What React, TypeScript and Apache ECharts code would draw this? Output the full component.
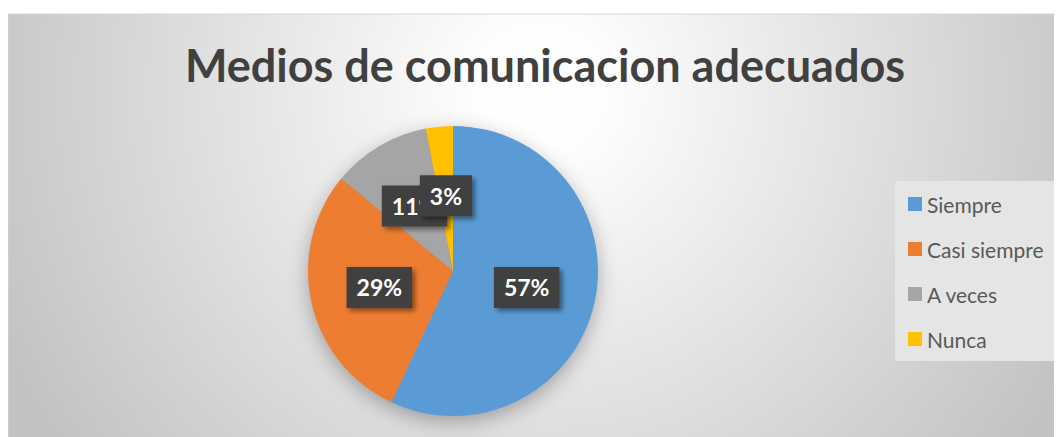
import React, { useEffect, useRef } from "react";
import * as echarts from "echarts";

const titleText = "Medios de comunicacion adecuados";
const categories = ["Siempre", "Casi siempre", "A veces", "Nunca"];
const values = [57, 29, 11, 3];
const colors = ["#5B9BD5", "#ED7D31", "#A5A5A5", "#FFC000"];

const FONT = "Lato, 'Open Sans', sans-serif";

export default function App() {
  const ref = useRef<HTMLDivElement>(null);

  useEffect(() => {
    if (!ref.current) return;
    const chart = echarts.init(ref.current, null, { renderer: "svg" });
    const center = [445, 263];
    const radius = 145;

    chart.setOption({
      animation: false,
      color: colors,
      title: {
        text: titleText,
        left: 532,
        top: 29,
        textAlign: "center",
        textStyle: {
          fontFamily: FONT,
          fontSize: 45,
          fontWeight: "bold",
          color: "#404040",
        },
      },
      legend: {
        orient: "vertical",
        left: 887,
        top: 173,
        padding: [12, 12, 11, 13],
        backgroundColor: "#e5e5e5",
        icon: "rect",
        itemWidth: 14,
        itemHeight: 14,
        itemGap: 23,
        data: categories,
        textStyle: {
          fontFamily: FONT,
          fontSize: 21,
          lineHeight: 22,
          color: "#595959",
        },
      },
      graphic: [
        {
          type: "rect",
          z: -10,
          silent: true,
          shape: { x: 0, y: 6, width: 1070, height: 440 },
          style: {
            fill: {
              type: "radial",
              x: 532,
              y: 82,
              r: 600,
              global: true,
              colorStops: [
                { offset: 0, color: "#ffffff" },
                { offset: 0.1, color: "#fefefe" },
                { offset: 1, color: "#c2c2c2" },
              ],
            },
            stroke: "#d6d6d6",
            lineWidth: 1,
          },
        },
        {
          type: "circle",
          z: -5,
          silent: true,
          shape: { cx: center[0], cy: center[1], r: radius - 2 },
          style: {
            fill: "#9a9a9a",
            shadowBlur: 22,
            shadowColor: "rgba(0,0,0,0.35)",
            shadowOffsetX: 0,
            shadowOffsetY: 6,
          },
        },
      ],
      series: [
        {
          type: "pie",
          center: center,
          radius: radius,
          startAngle: 90,
          clockwise: true,
          avoidLabelOverlap: false,
          labelLayout: { hideOverlap: false },
          data: categories.map((name, i) => ({ name, value: values[i] })),
          itemStyle: { borderWidth: 0 },
          emphasis: { disabled: true },
          label: {
            show: true,
            position: "inside",
            formatter: "{c}%",
            color: "#ffffff",
            fontFamily: FONT,
            fontSize: 23,
            fontWeight: "bold",
            lineHeight: 23,
            backgroundColor: "#404040",
            padding: [9, 10],
            shadowColor: "rgba(0,0,0,0.45)",
            shadowBlur: 5,
            shadowOffsetX: 3,
            shadowOffsetY: 3,
          },
          labelLine: { show: false },
        },
      ],
    });

    return () => chart.dispose();
  }, []);

  return <div ref={ref} style={{ width: 1054, height: 429 }} />;
}
